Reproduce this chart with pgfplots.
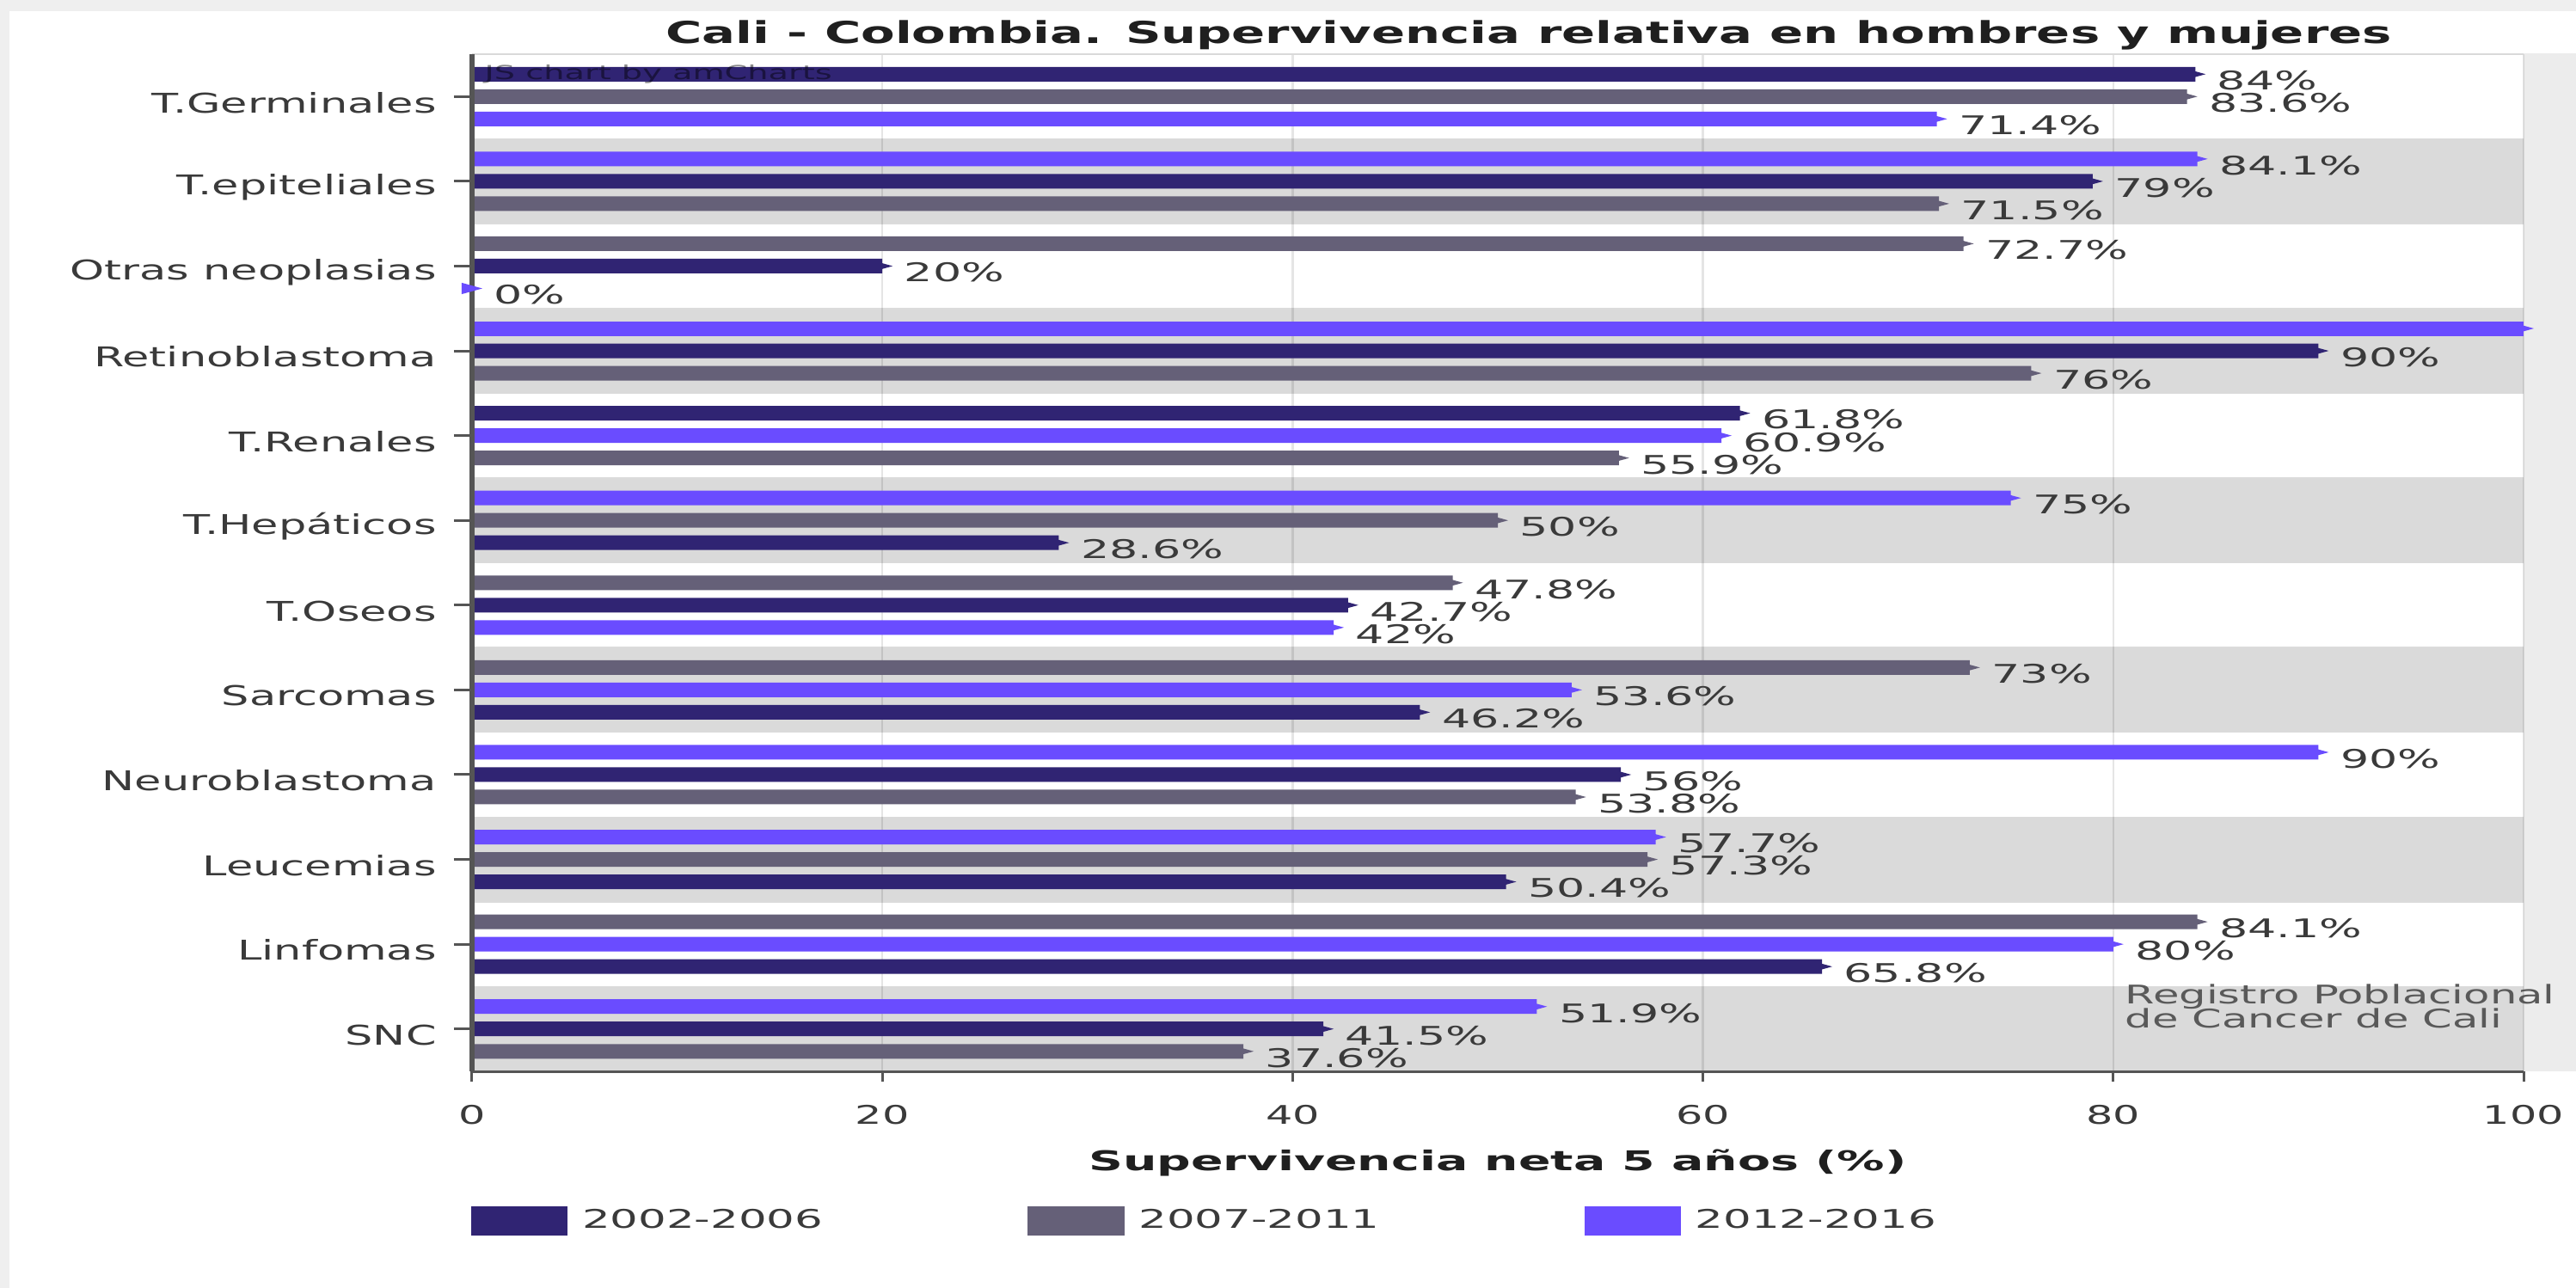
\documentclass[border=0pt]{standalone}
\usepackage{pgfplots}
\usepackage{pgfplotstable}
\pgfplotsset{compat=1.18}
\usepackage{fontspec}
\setmainfont{DejaVu Sans}
\newfontfamily\catfont{DejaVu Sans}[FakeStretch=1.61]
\newfontfamily\valfont{DejaVu Sans}[FakeStretch=1.75]
\newfontfamily\tickfont{DejaVu Sans}[FakeStretch=1.65]
\newfontfamily\legfont{DejaVu Sans}[FakeStretch=1.72]
\newfontfamily\titlefont{DejaVu Sans}[FakeStretch=1.64]
\newfontfamily\xlabfont{DejaVu Sans}[FakeStretch=1.75]
\newfontfamily\notefont{DejaVu Sans}[FakeStretch=1.66]
\newfontfamily\wmfont{DejaVu Sans}[FakeStretch=1.7]

\definecolor{serA}{HTML}{302473}
\definecolor{serB}{HTML}{656078}
\definecolor{serC}{HTML}{6A4CFF}
\definecolor{band}{HTML}{DADADA}
\definecolor{txt}{HTML}{3A3A3A}
\definecolor{axisgray}{HTML}{555555}
\definecolor{stripgray}{HTML}{EFEFEF}
\definecolor{rightgray}{HTML}{ECECEC}

% small right-pointing tip drawn at the end of every bar
\pgfdeclareplotmark{tip}{%
  \pgfpathmoveto{\pgfqpoint{-\pgfplotmarksize}{0.55\pgfplotmarksize}}%
  \pgfpathlineto{\pgfqpoint{\pgfplotmarksize}{0pt}}%
  \pgfpathlineto{\pgfqpoint{-\pgfplotmarksize}{-0.55\pgfplotmarksize}}%
  \pgfpathclose
  \pgfusepathqfill}

% value, bar position (category 11 = T.Germinales ... 0 = SNC)
\pgfplotstableread{
v p
84 11.264
79 10
20 9
90 8
61.8 7.264
28.6 5.736
42.7 5
46.2 3.736
56 3
50.4 1.736
65.8 0.736
41.5 0
}\tabA
\pgfplotstableread{
v p
83.6 11
71.5 9.736
72.7 9.264
76 7.736
55.9 6.736
50 6
47.8 5.264
73 4.264
53.8 2.736
57.3 2
84.1 1.264
37.6 -0.264
}\tabB
\pgfplotstableread{
v p
71.4 10.736
84.1 10.264
0 8.736
60.9 7
75 6.264
42 4.736
53.6 4
90 3.264
57.7 2.264
80 1
51.9 0.264
}\tabC
\pgfplotstableread{
v p
100 8.264
}\tabCtop

\pgfplotsset{
  barbase/.style={xbar, bar width=1.7mm, bar shift=0pt, draw=none,
    mark=tip, mark size=1.2mm, forget plot},
  vals/.style={point meta=x,
    nodes near coords={\pgfmathprintnumber[fixed,precision=1,assume math mode=true]{\pgfplotspointmeta}\%},
    every node near coord/.append style={anchor=west, xshift=2.5mm, yshift=-0.75mm,
      font=\valfont\fontsize{8.5}{10}\selectfont, text=txt, inner sep=0pt}},
}

\begin{document}
\begin{tikzpicture}
\begin{scope}[x=0.1mm,y=-0.1mm]
  \fill[white] (0,0) rectangle (2996,1498);
  \fill[stripgray] (0,0) rectangle (2996,13);
  \fill[stripgray] (0,0) rectangle (11,1498);
  \fill[rightgray] (2935,62) rectangle (2996,1246);
  \node[anchor=base, inner sep=0pt, text=black!88,
        font=\titlefont\bfseries\fontsize{10}{12}\selectfont]
    at (1778,50) {Cali - Colombia. Supervivencia relativa en hombres y mujeres};
\end{scope}

\begin{axis}[
  at={(54.9mm,-124.6mm)}, anchor=south west,
  scale only axis, width=238.6mm, height=118.3mm,
  xmin=0, xmax=100, ymin=-0.5, ymax=11.5,
  clip=false,
  axis line style={draw=none},
  xtick={0,20,...,100}, ytick={0,...,11},
  yticklabels={SNC,Linfomas,Leucemias,Neuroblastoma,Sarcomas,T.Oseos,T.Hepáticos,T.Renales,Retinoblastoma,Otras neoplasias,T.epiteliales,T.Germinales},
  xtick pos=left, ytick pos=left,
  tick align=outside, major tick length=1.2mm,
  tick style={draw=axisgray, line width=0.3mm},
  ytick style={/pgfplots/major tick length=2.1mm},
  /pgf/number format/assume math mode=true,
  xticklabel style={font=\tickfont\fontsize{8.5}{10}\selectfont, text=txt, yshift=-1.5mm},
  yticklabel style={font=\catfont\fontsize{9}{10}\selectfont, text=txt,
    xshift=-1.7mm, yshift=-0.7mm},
  xlabel={Supervivencia neta 5 años (\%)},
  xlabel style={font=\xlabfont\bfseries\fontsize{9}{10}\selectfont, text=black!88,
    at={(axis description cs:0.5,0)}, anchor=center, yshift=-10.6mm},
  legend columns=3,
  legend style={draw=none, fill=none, at={(axis description cs:0,0)}, anchor=west,
    yshift=-17.4mm, xshift=-0.2mm, inner sep=0pt,
    font=\legfont\fontsize{8.5}{10}\selectfont, text=txt,
    nodes={inner sep=0pt}},
]
% alternating category bands
\pgfplotsinvokeforeach{0,2,4,6,8,10}{
  \fill[band] (axis cs:0,#1-0.5) rectangle (axis cs:100,#1+0.5);
  \draw[black!14, line width=0.15mm] (axis cs:0,#1-0.5) -- (axis cs:100,#1-0.5)
    (axis cs:0,#1+0.5) -- (axis cs:100,#1+0.5);
}
% vertical grid lines
\pgfplotsinvokeforeach{20,40,60,80,100}{
  \draw[black, opacity=0.1, line width=0.25mm] (axis cs:#1,-0.5) -- (axis cs:#1,11.5);
}

\addplot[barbase, fill=serA, mark options={fill=serA}, vals] table[x=v, y=p] {\tabA};
\addplot[barbase, fill=serB, mark options={fill=serB}, vals] table[x=v, y=p] {\tabB};
\addplot[barbase, fill=serC, mark options={fill=serC}, vals] table[x=v, y=p] {\tabC};
\addplot[barbase, fill=serC, mark options={fill=serC}] table[x=v, y=p] {\tabCtop};

\addlegendimage{legend image code/.code={\fill[serA] (0mm,-1.65mm) rectangle (11.1mm,1.65mm);}}
\addlegendentry{\hspace{1.7mm}\makebox[51.8mm][l]{2002-2006}}
\addlegendimage{legend image code/.code={\fill[serB] (0mm,-1.65mm) rectangle (11.1mm,1.65mm);}}
\addlegendentry{\hspace{1.7mm}\makebox[51.8mm][l]{2007-2011}}
\addlegendimage{legend image code/.code={\fill[serC] (0mm,-1.65mm) rectangle (11.1mm,1.65mm);}}
\addlegendentry{\hspace{1.7mm}\makebox[30mm][l]{2012-2016}}

\draw[black!15, line width=0.25mm] (axis cs:0,11.5) -- (axis cs:100,11.5);
\draw[axisgray, line width=0.3mm] (axis cs:0,-0.5) -- (axis cs:100,-0.5);
\draw[axisgray, line width=0.6mm] (axis cs:0,-0.5) -- (axis cs:0,11.5);
\end{axis}

\begin{scope}[x=0.1mm,y=-0.1mm]
  \node[anchor=base west, inner sep=0pt, text=black, opacity=0.45,
        font=\wmfont\fontsize{6.4}{7}\selectfont] at (563,92) {JS chart by amCharts};
  \node[anchor=base west, inner sep=0pt, text=black!65,
        font=\notefont\fontsize{8.5}{10}\selectfont] at (2471,1167) {Registro Poblacional};
  \node[anchor=base west, inner sep=0pt, text=black!65,
        font=\notefont\fontsize{8.5}{10}\selectfont] at (2471,1195) {de Cancer de Cali};
\end{scope}
\pgfresetboundingbox
\path[use as bounding box] (0,0) rectangle (299.6mm,-149.8mm);
\end{tikzpicture}
\end{document}
